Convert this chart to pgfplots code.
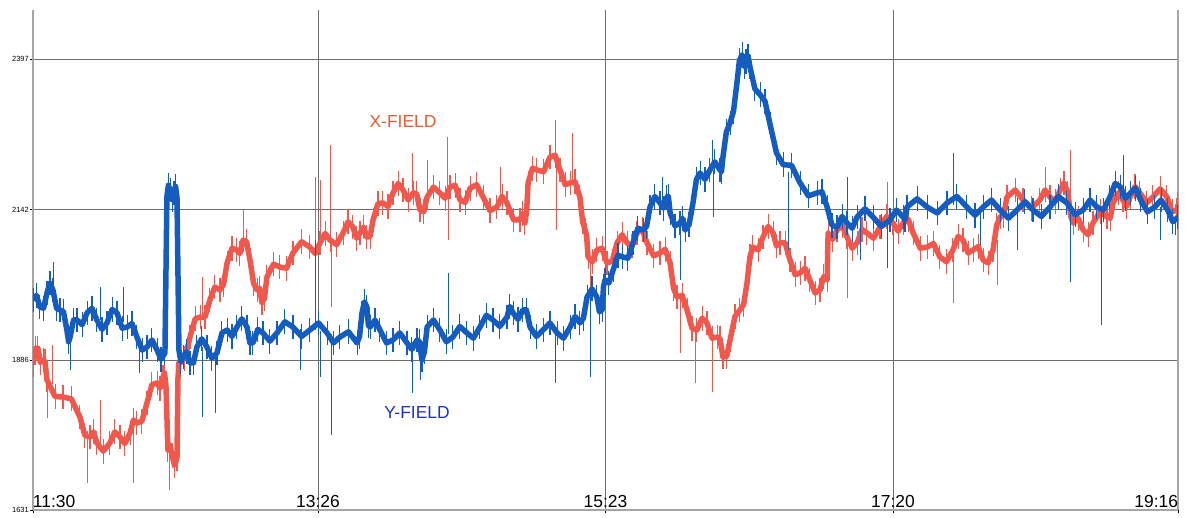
\documentclass[border=0pt]{standalone}
\usepackage{pgfplots}
\pgfplotsset{compat=1.18}
\usepackage{fontspec}
\setmainfont{Liberation Sans}
\definecolor{redline}{RGB}{240,88,78}
\definecolor{blueline}{RGB}{20,92,190}
\definecolor{xlab}{RGB}{236,88,50}
\definecolor{ylab}{RGB}{30,50,195}
\definecolor{gridc}{RGB}{110,110,110}
\definecolor{axc}{RGB}{165,165,165}
\begin{document}
\begin{tikzpicture}
\useasboundingbox (-33bp,-8bp) rectangle (1152bp,510bp);
\begin{axis}[
  scale only axis, width=1145bp, height=500bp,
  xmin=0, xmax=466, ymin=1631, ymax=2481,
  axis x line*=bottom, axis y line*=box,
  x axis line style={-}, y axis line style={-},
  axis line style={draw=axc, line width=1.2bp},
  tick pos=left, tick align=outside,
  major tick length=3bp, minor tick length=3.5bp,
  every tick/.style={black, line width=0.6bp},
  xtick={0,116,233,350,466},
  xticklabels={\makebox[0pt][l]{11:30},13:26,15:23,17:20,\makebox[0pt][r]{19:16}},
  minor x tick num=5,
  ytick={1631,1886.3,2141.7,2397},
  yticklabels={1631,1886,2142,2397},
  minor y tick num=5,
  xticklabel style={font=\fontsize{17.5}{17.5}\selectfont, anchor=base, yshift=6bp},
  yticklabel style={font=\fontsize{7.5}{7.5}\selectfont, inner sep=1bp},
  grid=major, major grid style={draw=gridc, line width=0.6bp},
  unbounded coords=jump,
  fuzz/.style={error bars/.cd, y dir=both, y fixed=21, error mark=none,
    error bar style={line width=1.1bp}},
]
% X-FIELD base trace
\addplot[redline, line width=5.5bp, line join=round, fuzz] coordinates {
(0,1878) (1.0,1906) (2.0,1906) (3.0,1882) (4.1,1886) (4.9,1883) (5.7,1852) (9.0,1824)
(12.2,1823) (15.6,1820) (19.1,1789) (21.1,1758) (23.2,1755) (24.6,1764) (26.0,1745) (28.6,1731)
(31.3,1745) (33.3,1764) (35.4,1755) (37.4,1744) (39.5,1762) (40.9,1784) (42.3,1779) (44.3,1782)
(46.4,1813) (48.4,1844) (50.5,1847) (51.7,1838) (52.9,1857) (53.5,1864) (54.1,1844) (54.5,1790)
(54.9,1733) (55.7,1742) (56.6,1724) (57.6,1707) (58.6,1719) (59.0,1855) (59.4,1882) (59.8,1881)
(61.8,1889) (63.9,1925) (66.0,1956) (68.0,1959) (70.0,1959) (72.0,1988) (74.0,2010) (76.1,2005)
(77.5,2014) (79.0,2051) (81.0,2076) (83.0,2073) (84.2,2067) (85.5,2090) (86.9,2087) (88.3,2056)
(89.8,2016) (91.2,2005) (92.2,2008) (93.2,1983) (94.2,1991) (95.2,2027) (97.9,2049) (100.5,2044)
(103.2,2042) (105.8,2068) (109.3,2087) (112.7,2078) (114.8,2067) (116.8,2085) (118.9,2101) (120.9,2090)
(123.6,2082) (126.2,2102) (128.2,2121) (130.2,2112) (131.7,2093) (133.1,2102) (134.5,2112) (135.9,2095)
(137.2,2096) (138.4,2124) (140.4,2152) (142.4,2153) (144.5,2147) (146.5,2170) (148.6,2186) (150.6,2175)
(152.7,2158) (154.7,2170) (156.1,2169) (157.5,2141) (159.0,2138) (160.4,2163) (163.0,2180) (165.6,2170)
(167.7,2161) (169.7,2180) (171.8,2183) (173.8,2158) (175.9,2154) (177.9,2178) (180.6,2184) (183.2,2163)
(186.0,2140) (188.8,2146) (190.9,2164) (192.9,2153) (195.6,2124) (198.2,2124) (199.2,2135) (200.2,2119)
(200.9,2139) (201.5,2187) (203.3,2212) (205.1,2209) (207.8,2206) (210.4,2231) (212.5,2234) (214.5,2209)
(216.6,2184) (218.6,2187) (220.6,2189) (222.6,2163) (223.7,2121) (224.7,2107) (225.3,2098) (225.9,2061)
(227.7,2053) (229.5,2073) (231.6,2076) (233.6,2051) (235.7,2054) (237.7,2085) (239.8,2099) (241.8,2085)
(243.8,2080) (245.8,2102) (247.9,2108) (249.9,2085) (252.6,2063) (255.2,2068) (257.3,2074) (259.3,2051)
(260.7,2008) (262.1,1993) (264.2,1996) (266.2,1971) (268.2,1940) (270.2,1937) (272.3,1957) (274.3,1949)
(276.4,1923) (278.4,1925) (279.6,1922) (280.8,1891) (282.3,1892) (283.7,1920) (285.7,1960) (287.7,1971)
(289.2,1980) (290.6,2017) (291.8,2062) (293.0,2078) (295.1,2073) (297.1,2095) (299.2,2113) (301.2,2102)
(302.6,2080) (304.0,2085) (306.1,2085) (308.1,2056) (310.2,2031) (312.2,2034) (314.2,2042) (316.2,2022)
(318.3,2000) (320.3,2005) (321.8,2028) (323.2,2022) (323.6,2102) (325.4,2091) (327.2,2107) (329.3,2115)
(331.3,2095) (333.4,2076) (335.4,2085) (337.4,2108) (339.4,2102) (342.1,2093) (344.7,2112) (347.4,2130)
(350.0,2119) (352.1,2105) (354.1,2119) (356.2,2125) (358.2,2102) (361.1,2076) (363.9,2078) (366.5,2084)
(369.1,2061) (371.8,2053) (374.4,2073) (376.5,2096) (378.5,2090) (380.6,2068) (382.6,2073) (384.7,2079)
(386.7,2056) (388.7,2051) (390.7,2073) (392.2,2115) (393.6,2129) (395.0,2132) (396.4,2163) (399.7,2175)
(402.9,2158) (406.4,2144) (409.8,2158) (411.9,2175) (413.9,2163) (416.0,2155) (418.0,2175) (419.6,2187)
(421.2,2170) (422.3,2131) (423.3,2119) (425.4,2127) (427.4,2107) (429.4,2099) (431.4,2119) (434.3,2138)
(437.1,2129) (438.4,2127) (439.6,2153) (441.6,2170) (443.6,2158) (445.1,2147) (446.5,2163) (448.5,2181)
(450.5,2170) (453.2,2153) (455.8,2163) (458.7,2177) (461.5,2163) (463.6,2138) (465.6,2141) (466,2150)
};
% X-FIELD spikes
\addplot[redline, line width=0.8bp] coordinates {
(5.7,1852) (5.7,1787) (5.7,nan)
(7.7,1845) (7.7,1912) (7.7,nan)
(22.0,1765) (22.0,1677) (22.0,nan)
(27.3,1745) (27.3,1818) (27.3,nan)
(40.7,1770) (40.7,1677) (40.7,nan)
(55.4,1730) (55.4,1665) (55.4,nan)
(68.8,1965) (68.8,2027) (68.8,nan)
(85.5,2090) (85.5,2141) (85.5,nan)
(114.8,2080) (114.8,2197) (114.8,nan)
(116.8,2085) (116.8,2192) (116.8,nan)
(120.9,2090) (120.9,2252) (120.9,nan)
(121.5,2090) (121.5,1976) (121.5,nan)
(154.3,2170) (154.3,2238) (154.3,nan)
(160.4,2163) (160.4,2226) (160.4,nan)
(168.5,2178) (168.5,2265) (168.5,nan)
(168.9,2178) (168.9,2090) (168.9,nan)
(190.1,2148) (190.1,2214) (190.1,nan)
(212.5,2220) (212.5,2294) (212.5,nan)
(212.9,2220) (212.9,2107) (212.9,nan)
(219.4,2185) (219.4,2272) (219.4,nan)
(226.7,2065) (226.7,2010) (226.7,nan)
(263.3,1990) (263.3,1898) (263.3,nan)
(269.4,1940) (269.4,1847) (269.4,nan)
(276.4,1935) (276.4,1832) (276.4,nan)
(331.3,2095) (331.3,1991) (331.3,nan)
(347.6,2115) (347.6,2189) (347.6,nan)
(374.4,2073) (374.4,1983) (374.4,nan)
(392.4,2090) (392.4,2014) (392.4,nan)
(411.9,2160) (411.9,2214) (411.9,nan)
(422.1,2150) (422.1,2243) (422.1,nan)
};
% Y-FIELD base trace
\addplot[blueline, line width=5.5bp, line join=round, fuzz] coordinates {
(0,1988) (1.4,1996) (2.8,1976) (4.3,1974) (5.7,2000) (6.9,2017) (8.1,2005) (9.6,1974)
(11.0,1971) (12.4,1968) (13.8,1937) (14.5,1917) (15.1,1925) (16.5,1954) (17.9,1954) (20.0,1946)
(22.0,1966) (24.0,1974) (26.0,1954) (28.1,1938) (30.1,1949) (32.2,1972) (34.2,1966) (36.3,1940)
(38.3,1942) (40.3,1948) (42.3,1925) (44.4,1903) (46.4,1908) (48.4,1920) (50.5,1903) (52.1,1887)
(53.7,1898) (54.5,2163) (55.1,2183) (55.8,2175) (56.6,2159) (57.4,2170) (58.0,2181) (58.6,2163)
(59.4,1903) (60.2,1883) (61.1,1891) (62.5,1900) (63.9,1881) (65.3,1881) (66.7,1908) (68.7,1922)
(70.8,1908) (72.8,1889) (74.9,1898) (76.9,1932) (79.0,1937) (81.0,1926) (83.0,1942) (85.0,1956)
(87.1,1942) (88.3,1915) (89.5,1915) (91.5,1938) (93.6,1932) (96.4,1918) (99.3,1932) (102.5,1951)
(105.8,1942) (109.3,1926) (112.7,1937) (116.2,1949) (119.7,1932) (122.3,1915) (124.9,1925) (128.4,1934)
(131.9,1915) (132.9,1926) (133.9,1966) (134.9,1985) (135.9,1976) (136.5,1945) (137.2,1942) (139.2,1954)
(141.2,1937) (143.9,1915) (146.5,1920) (149.3,1932) (152.2,1915) (154.2,1904) (156.3,1920) (157.3,1917)
(158.3,1886) (159.3,1900) (160.4,1942) (163.0,1954) (165.6,1937) (168.2,1917) (170.9,1925) (173.7,1943)
(176.6,1932) (179.2,1923) (181.9,1942) (184.5,1962) (187.2,1954) (190.0,1943) (192.9,1959) (194.1,1977)
(195.4,1966) (197.4,1955) (199.4,1971) (200.8,1971) (202.3,1942) (204.9,1926) (207.6,1937) (210.4,1949)
(213.3,1932) (215.9,1923) (218.6,1942) (220.6,1960) (222.6,1949) (224.0,1957) (225.5,1993) (227.5,2007)
(229.5,1993) (230.5,1968) (231.6,1971) (232.2,2011) (232.8,2022) (234.4,2017) (236.1,2039) (238.1,2064)
(240.1,2061) (242.1,2059) (244.2,2085) (246.2,2110) (248.3,2107) (249.7,2113) (251.1,2146) (253.1,2164)
(255.2,2153) (256.6,2144) (258.0,2163) (258.6,2164) (259.3,2136) (261.3,2114) (263.3,2119) (264.3,2127)
(265.4,2107) (267.0,2116) (268.6,2153) (270.0,2193) (271.5,2204) (273.5,2193) (275.5,2209) (277.5,2223)
(279.6,2209) (280.2,2206) (280.8,2231) (282.2,2274) (283.7,2289) (285.1,2309) (286.5,2357) (287.5,2395)
(288.6,2405) (289.4,2385) (290.2,2393) (291.0,2403) (291.8,2384) (293.8,2347) (295.9,2337) (297.9,2326)
(300.0,2286) (302.6,2238) (305.3,2218) (308.7,2217) (312.2,2187) (315.6,2165) (319.1,2170) (321.1,2172)
(323.2,2146) (325.2,2115) (327.2,2112) (329.3,2130) (331.3,2119) (333.4,2110) (335.4,2129) (338.6,2143)
(341.9,2129) (345.3,2113) (348.8,2124) (351.4,2141) (354.1,2129) (354.9,2124) (355.7,2146) (359.8,2160)
(363.9,2146) (368.0,2136) (372.0,2153) (376.0,2164) (380.1,2146) (383.4,2132) (386.7,2146) (390.1,2158)
(393.6,2141) (397.0,2127) (400.5,2141) (403.7,2155) (407.0,2141) (410.4,2130) (413.9,2146) (417.3,2164)
(420.8,2153) (424.1,2133) (427.4,2141) (430.2,2158) (433.0,2146) (435.6,2141) (438.3,2163) (440.4,2186)
(442.6,2180) (444.6,2161) (446.7,2170) (448.7,2178) (450.8,2158) (453.6,2138) (456.5,2146) (459.1,2158)
(461.8,2141) (463.9,2121) (466.0,2129)
};
% Y-FIELD spikes
\addplot[blueline, line width=0.8bp] coordinates {
(8.1,2005) (8.1,2053) (8.1,nan)
(15.1,1925) (15.1,1869) (15.1,nan)
(27.3,1954) (27.3,2010) (27.3,nan)
(36.6,1950) (36.6,2010) (36.6,nan)
(43.5,1920) (43.5,1864) (43.5,nan)
(68.8,1908) (68.8,1789) (68.8,nan)
(74.1,1900) (74.1,1796) (74.1,nan)
(108.7,1938) (108.7,1869) (108.7,nan)
(114.8,1937) (114.8,2090) (114.8,nan)
(116.8,1935) (116.8,1857) (116.8,nan)
(121.3,1930) (121.3,1759) (121.3,nan)
(154.3,1917) (154.3,1830) (154.3,nan)
(157.5,1905) (157.5,1852) (157.5,nan)
(168.9,1930) (168.9,2034) (168.9,nan)
(212.5,1932) (212.5,1847) (212.5,nan)
(226.7,1993) (226.7,1857) (226.7,nan)
(256.0,2155) (256.0,2197) (256.0,nan)
(263.3,2119) (263.3,2022) (263.3,nan)
(276.4,2209) (276.4,2260) (276.4,nan)
(276.8,2209) (276.8,2129) (276.8,nan)
(307.3,2205) (307.3,2073) (307.3,nan)
(331.3,2119) (331.3,2197) (331.3,nan)
(336.6,2129) (336.6,2056) (336.6,nan)
(347.6,2124) (347.6,2042) (347.6,nan)
(374.4,2150) (374.4,2238) (374.4,nan)
(385.4,2146) (385.4,2082) (385.4,nan)
(400.5,2141) (400.5,2073) (400.5,nan)
(422.1,2150) (422.1,2019) (422.1,nan)
(434.7,2146) (434.7,1946) (434.7,nan)
(443.6,2178) (443.6,2235) (443.6,nan)
(458.7,2146) (458.7,2090) (458.7,nan)
(464.8,2130) (464.8,2099) (464.8,nan)
};
\node[text=xlab, font=\fontsize{17.5}{17.5}\selectfont] at (axis cs:150.6,2292) {X-FIELD};
\node[text=ylab, font=\fontsize{17.5}{17.5}\selectfont] at (axis cs:156.3,1796) {Y-FIELD};
\end{axis}
\end{tikzpicture}
\end{document}
